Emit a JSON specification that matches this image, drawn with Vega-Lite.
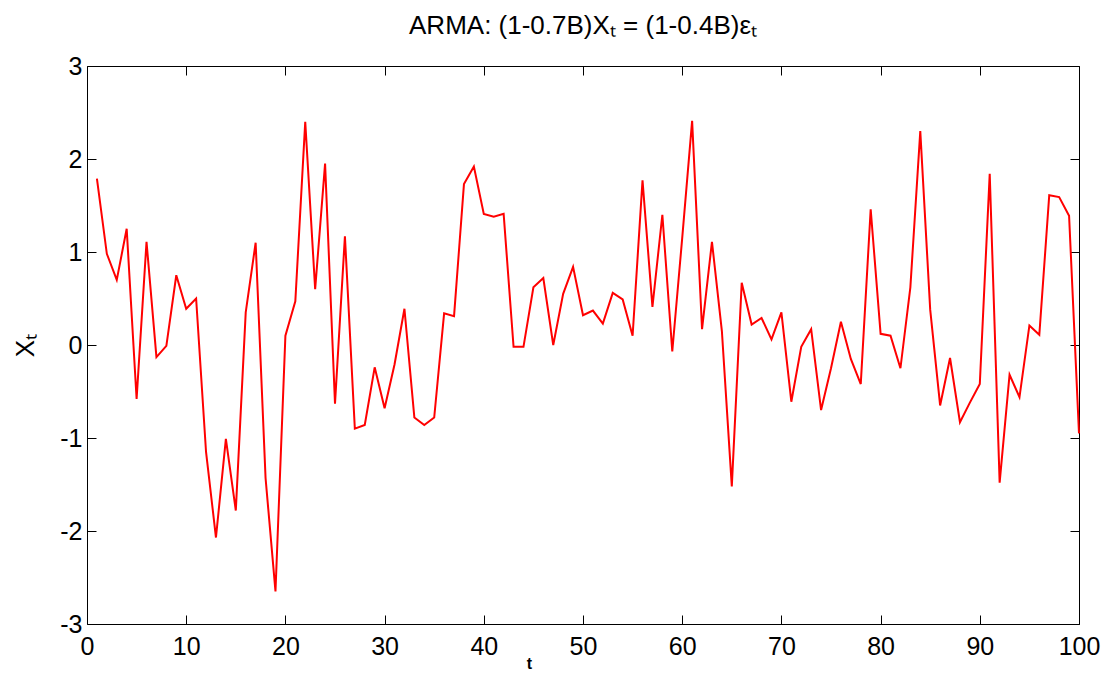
{
  "$schema": "https://vega.github.io/schema/vega-lite/v6.json",
  "width": 992,
  "height": 558,
  "autosize": {"type": "none"},
  "padding": {"left": 87, "top": 66, "right": 30, "bottom": 51},
  "background": "white",
  "config": {
    "view": {"stroke": "#000", "strokeWidth": 1},
    "font": "Liberation Sans",
    "axis": {
      "grid": false,
      "domain": false,
      "tickColor": "#000",
      "tickWidth": 1,
      "tickSize": -9,
      "labelFont": "Liberation Sans",
      "labelFontSize": 25,
      "labelColor": "#000",
      "labelOverlap": false,
      "labelFlush": false,
      "titleFont": "Liberation Sans",
      "titleColor": "#000"
    }
  },
  "title": {
    "text": "ARMA: (1-0.7B)Xₜ = (1-0.4B)εₜ",
    "font": "Liberation Sans",
    "fontSize": 26,
    "fontWeight": "normal",
    "color": "#000",
    "anchor": "middle",
    "frame": "group",
    "baseline": "bottom",
    "offset": -11
  },
  "data": {
    "values": [
      {"t": 1, "x": 1.79}, {"t": 2, "x": 0.98}, {"t": 3, "x": 0.70}, {"t": 4, "x": 1.25}, {"t": 5, "x": -0.58},
      {"t": 6, "x": 1.11}, {"t": 7, "x": -0.13}, {"t": 8, "x": -0.01}, {"t": 9, "x": 0.75}, {"t": 10, "x": 0.39},
      {"t": 11, "x": 0.50}, {"t": 12, "x": -1.15}, {"t": 13, "x": -2.07}, {"t": 14, "x": -1.01}, {"t": 15, "x": -1.78},
      {"t": 16, "x": 0.35}, {"t": 17, "x": 1.10}, {"t": 18, "x": -1.43}, {"t": 19, "x": -2.65}, {"t": 20, "x": 0.10},
      {"t": 21, "x": 0.47}, {"t": 22, "x": 2.40}, {"t": 23, "x": 0.60}, {"t": 24, "x": 1.95}, {"t": 25, "x": -0.63},
      {"t": 26, "x": 1.17}, {"t": 27, "x": -0.90}, {"t": 28, "x": -0.86}, {"t": 29, "x": -0.24}, {"t": 30, "x": -0.68},
      {"t": 31, "x": -0.21}, {"t": 32, "x": 0.39}, {"t": 33, "x": -0.78}, {"t": 34, "x": -0.86}, {"t": 35, "x": -0.78},
      {"t": 36, "x": 0.34}, {"t": 37, "x": 0.31}, {"t": 38, "x": 1.73}, {"t": 39, "x": 1.92}, {"t": 40, "x": 1.41},
      {"t": 41, "x": 1.38}, {"t": 42, "x": 1.41}, {"t": 43, "x": -0.02}, {"t": 44, "x": -0.02}, {"t": 45, "x": 0.62},
      {"t": 46, "x": 0.72}, {"t": 47, "x": 0.00}, {"t": 48, "x": 0.55}, {"t": 49, "x": 0.84}, {"t": 50, "x": 0.32},
      {"t": 51, "x": 0.37}, {"t": 52, "x": 0.23}, {"t": 53, "x": 0.56}, {"t": 54, "x": 0.49}, {"t": 55, "x": 0.10},
      {"t": 56, "x": 1.77}, {"t": 57, "x": 0.41}, {"t": 58, "x": 1.40}, {"t": 59, "x": -0.07}, {"t": 60, "x": 1.15},
      {"t": 61, "x": 2.41}, {"t": 62, "x": 0.17}, {"t": 63, "x": 1.11}, {"t": 64, "x": 0.15}, {"t": 65, "x": -1.52},
      {"t": 66, "x": 0.67}, {"t": 67, "x": 0.22}, {"t": 68, "x": 0.29}, {"t": 69, "x": 0.06}, {"t": 70, "x": 0.35},
      {"t": 71, "x": -0.61}, {"t": 72, "x": -0.02}, {"t": 73, "x": 0.17}, {"t": 74, "x": -0.70}, {"t": 75, "x": -0.25},
      {"t": 76, "x": 0.25}, {"t": 77, "x": -0.15}, {"t": 78, "x": -0.42}, {"t": 79, "x": 1.46}, {"t": 80, "x": 0.12},
      {"t": 81, "x": 0.10}, {"t": 82, "x": -0.25}, {"t": 83, "x": 0.62}, {"t": 84, "x": 2.30}, {"t": 85, "x": 0.38},
      {"t": 86, "x": -0.65}, {"t": 87, "x": -0.14}, {"t": 88, "x": -0.83}, {"t": 89, "x": -0.62}, {"t": 90, "x": -0.42},
      {"t": 91, "x": 1.84}, {"t": 92, "x": -1.48}, {"t": 93, "x": -0.32}, {"t": 94, "x": -0.56}, {"t": 95, "x": 0.21},
      {"t": 96, "x": 0.11}, {"t": 97, "x": 1.61}, {"t": 98, "x": 1.59}, {"t": 99, "x": 1.39}, {"t": 100, "x": -0.95}
    ]
  },
  "layer": [
    {
      "mark": {"type": "line", "color": "#ff0000", "strokeWidth": 2},
      "encoding": {
        "x": {
          "field": "t", "type": "quantitative",
          "scale": {"domain": [0, 100], "nice": false, "zero": false},
          "axis": {
            "orient": "bottom",
            "values": [0, 10, 20, 30, 40, 50, 60, 70, 80, 90, 100],
            "labelPadding": 19,
            "title": "t",
            "titleFontSize": 16,
            "titleFontWeight": "bold",
            "titleX": 442,
            "titleY": 44,
            "titleBaseline": "alphabetic",
            "titleAnchor": "start",
            "titleAlign": "center"
          }
        },
        "y": {
          "field": "x", "type": "quantitative",
          "scale": {"domain": [-3, 3], "nice": false, "zero": false},
          "axis": {
            "orient": "left",
            "values": [-3, -2, -1, 0, 1, 2, 3],
            "labelExpr": "datum.value < 0 ? '-' + abs(datum.value) : '' + datum.value",
            "labelPadding": 14,
            "title": "Xₜ",
            "titleFontSize": 26,
            "titleFontWeight": "normal",
            "titleX": -54,
            "titleBaseline": "alphabetic"
          }
        }
      }
    },
    {
      "mark": {"type": "line", "opacity": 0},
      "encoding": {
        "x": {
          "field": "t", "type": "quantitative",
          "axis": {"orient": "top", "values": [0, 10, 20, 30, 40, 50, 60, 70, 80, 90, 100], "labels": false, "title": null}
        },
        "y": {
          "field": "x", "type": "quantitative",
          "axis": {"orient": "right", "values": [-3, -2, -1, 0, 1, 2, 3], "labels": false, "title": null}
        }
      }
    }
  ],
  "resolve": {"axis": {"x": "independent", "y": "independent"}}
}
